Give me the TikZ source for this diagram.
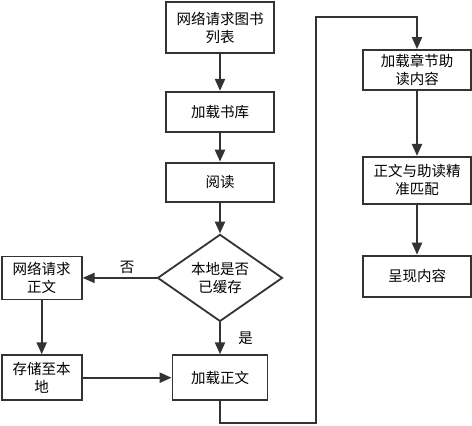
\documentclass[tikz,border=0pt]{standalone}
\usepackage{fontspec}
\newfontfamily\cjk{Noto Sans CJK SC}
\usetikzlibrary{shapes.geometric, arrows.meta, positioning}
\definecolor{ink}{HTML}{333333}

\begin{document}
\begin{tikzpicture}[
    x=1pt, y=1pt,
    box/.style={draw=ink, rectangle, line width=1.8pt, minimum width=108pt, minimum height=40pt, align=center, inner sep=2pt, font=\cjk\fontsize{14.5pt}{18pt}\selectfont},
    decision/.style={draw=ink, diamond, aspect=1.44, line width=1.8pt, minimum width=125pt, minimum height=87pt, inner sep=0pt, align=center, font=\cjk\fontsize{14.5pt}{18pt}\selectfont},
    arrow/.style={-{Triangle[length=12pt, width=10pt]}, line width=2.2pt, draw=ink},
    tag/.style={font=\cjk\fontsize{14.5pt}{18pt}\selectfont}
]
\useasboundingbox (0,0) rectangle (472,-426);

% Reading column
\node[box, minimum height=51pt] (list) at (220,-27.5) {网络请求图书\\列表};
\node[box, below=37pt of list] (lib) {加载书库};
\node[box, minimum height=39pt, below=29pt of lib] (read) {阅读};
\node[decision, below=31pt of read] (cache) {本地是否\\已缓存};
\node[box, minimum width=95pt, minimum height=45pt, below=32pt of cache] (body) {加载正文};

% Network branch
\node[box, minimum width=80pt, minimum height=43pt, left=74pt of cache] (fetch) {网络请求\\正文};
\node[box, minimum width=80pt, minimum height=45pt, left=89pt of body] (store) {存储至本\\地};

% Guide column
\node[box] (guide) at (417,-70) {加载章节助\\读内容};
\node[box, minimum height=47pt, below=65pt of guide] (match) {正文与助读精\\准匹配};
\node[box, minimum height=41pt, below=50pt of match] (show) {呈现内容};

\coordinate (loopbot) at (316,-423);
\coordinate (looptop) at (316,-17);

% Connections
\draw[arrow] (list) -- (lib);
\draw[arrow] (lib) -- (read);
\draw[arrow] (read) -- (cache);
\draw[arrow] (cache.south) -- node[tag, right=14pt] {是} (body.north);
\draw[arrow] (cache.west) -- node[tag, above, pos=0.4] {否} (fetch.east);
\draw[arrow] (fetch) -- (store);
\draw[arrow] (store) -- (body);
\draw[arrow] (body.south) |- (loopbot) -- (looptop) -| (guide.north);
\draw[arrow] (guide) -- (match);
\draw[arrow] (match) -- (show);

\end{tikzpicture}
\end{document}
